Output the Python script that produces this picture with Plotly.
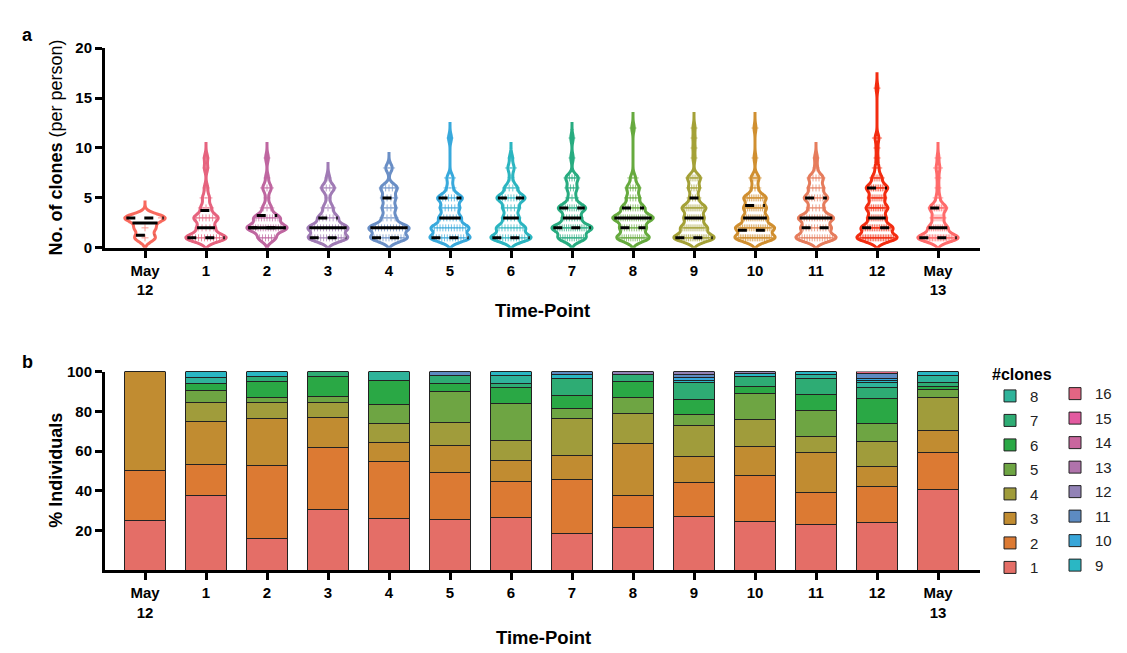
import numpy as np
import plotly.graph_objects as go

# ---------------- data ----------------
time_points = ["May<br>12", "1", "2", "3", "4", "5", "6", "7", "8", "9", "10", "11", "12", "May<br>13"]
clone_numbers = list(range(1, 17))

# number of individuals having 1..16 clones, per time-point
counts_may12 = [1, 1, 2, 0, 0, 0, 0, 0, 0, 0, 0, 0, 0, 0, 0, 0]
counts_tp1 = [12, 5, 7, 3, 2, 1, 0, 1, 1, 0, 0, 0, 0, 0, 0, 0]
counts_tp2 = [6, 14, 9, 3, 1, 3, 1, 0, 1, 0, 0, 0, 0, 0, 0, 0]
counts_tp3 = [12, 12, 6, 3, 1, 4, 1, 0, 0, 0, 0, 0, 0, 0, 0, 0]
counts_tp4 = [11, 12, 4, 4, 4, 5, 0, 2, 0, 0, 0, 0, 0, 0, 0, 0]
counts_tp5 = [13, 12, 7, 6, 8, 2, 2, 0, 0, 0, 1, 0, 0, 0, 0, 0]
counts_tp6 = [13, 9, 5, 5, 9, 4, 1, 2, 1, 0, 0, 0, 0, 0, 0, 0]
counts_tp7 = [11, 16, 7, 11, 3, 4, 5, 0, 1, 0, 1, 0, 0, 0, 0, 0]
counts_tp8 = [13, 10, 16, 9, 5, 5, 2, 0, 0, 0, 0, 1, 0, 0, 0, 0]
counts_tp9 = [19, 12, 9, 11, 4, 5, 6, 0, 1, 1, 1, 1, 0, 0, 0, 0]
counts_tp10 = [20, 19, 12, 11, 11, 3, 4, 0, 1, 0, 0, 1, 0, 0, 0, 0]
counts_tp11 = [14, 10, 12, 5, 8, 5, 5, 1, 1, 0, 0, 0, 0, 0, 0, 0]
counts_tp12 = [21, 16, 9, 11, 8, 11, 5, 2, 1, 1, 2, 0, 0, 0, 0, 1]
counts_may13 = [22, 10, 6, 9, 2, 1, 1, 2, 1, 0, 0, 0, 0, 0, 0, 0]

counts_by_tp = [counts_may12, counts_tp1, counts_tp2, counts_tp3, counts_tp4, counts_tp5,
                counts_tp6, counts_tp7, counts_tp8, counts_tp9, counts_tp10, counts_tp11,
                counts_tp12, counts_may13]

violin_colors = ["#F8695D", "#E6637E", "#BF66A0", "#A07BB5", "#6A8FC6", "#38A9DC", "#2BB5C0",
                 "#28AC80", "#66AA3E", "#A4A137", "#D08F30", "#E67C5C", "#F32C10", "#FF6B6B"]
bar_colors = ["#E46E67", "#DC7A33", "#C18C31", "#A09C3B", "#6EA543", "#2AA845", "#2EAC74", "#2FB39A",
              "#2AB7C4", "#38A6D9", "#5D8BC2", "#9282B6", "#B073AB", "#C9669E", "#E35AA0", "#E36583"]

# ---------------- figure ----------------
W, H = 1127, 653
FONT = "Liberation Sans, Arial, sans-serif"
BW = 0.4
VW = 0.66
fig = go.Figure()

for i, (cnts, col) in enumerate(zip(counts_by_tp, violin_colors)):
    vals = np.repeat(clone_numbers, cnts).astype(float)
    span = [0.0, vals.max() + 1.6]
    fig.add_trace(go.Violin(
        x=np.full(len(vals), i), y=vals, xaxis="x", yaxis="y",
        line=dict(color=col, width=3), fillcolor="white", width=VW,
        bandwidth=BW, spanmode="manual", span=span, scalemode="width",
        points=False, box_visible=False, meanline_visible=False,
        showlegend=False, hoverinfo="skip"))

    grid = np.linspace(span[0], span[1], 800)

    def kde(y):
        y = np.atleast_1d(y)
        return np.exp(-0.5 * ((y[:, None] - vals[None, :]) / BW) ** 2).sum(1)

    kmax = kde(grid).max()

    # individual values, spread evenly across the violin at their level
    px, py = [], []
    for num, c in zip(clone_numbers, cnts):
        if c == 0:
            continue
        hw = VW / 2 * kde(num)[0] / kmax * 0.82
        offs = np.linspace(-hw, hw, c) if c > 1 else np.array([0.0])
        px.extend(i + offs)
        py.extend([num] * c)
    fig.add_trace(go.Scatter(x=px, y=py, mode="markers", xaxis="x", yaxis="y",
                             marker=dict(symbol="cross-thin", size=5, color=col, opacity=0.7,
                                         line=dict(color=col, width=1)),
                             showlegend=False, hoverinfo="skip"))

    q1, med, q3 = np.percentile(vals, [25, 50, 75], method="weibull")
    for q, dash in ((q1, "dash"), (q3, "dash"), (med, "solid")):
        hw = VW / 2 * kde(q)[0] / kmax * 0.93
        fig.add_trace(go.Scatter(x=[i - hw, i + hw], y=[q, q], mode="lines", xaxis="x", yaxis="y",
                                 line=dict(color="black", width=3, dash=dash),
                                 showlegend=False, hoverinfo="skip"))

for k, num in enumerate(clone_numbers):
    pct = [c[k] / sum(c) * 100 for c in counts_by_tp]
    fig.add_trace(go.Bar(
        x=list(range(len(time_points))), y=pct, xaxis="x2", yaxis="y2", name=str(num),
        marker=dict(color=bar_colors[k], line=dict(color="#222222", width=1)), width=0.66,
        legend="legend" if num <= 8 else "legend2", legendgroup=str(num),
        legendrank=100 - num, hoverinfo="skip"))

xdom = [97 / W, 972 / W]
xr = [(97 - 137) / 61, (972 - 137) / 61]
axis_common = dict(showline=True, linewidth=3, linecolor="black", ticks="outside", ticklen=7,
                   tickwidth=2.5, tickcolor="black", showgrid=False, zeroline=False,
                   tickfont=dict(family=FONT, size=15, color="black"))

fig.update_layout(
    width=W, height=H, autosize=False,
    margin=dict(l=0, r=0, t=0, b=0),
    paper_bgcolor="white", plot_bgcolor="white",
    violinmode="overlay", barmode="stack",
    font=dict(family=FONT, color="black"),
    xaxis=dict(domain=xdom, range=xr, anchor="y", tickvals=list(range(14)),
               ticktext=["<b>%s</b>" % t for t in time_points], **axis_common),
    yaxis=dict(domain=[1 - 237 / H, 1 - 32 / H], range=[0, 20], anchor="x",
               tickvals=[0, 5, 10, 15, 20], ticktext=["<b>%d</b>" % v for v in [0, 5, 10, 15, 20]],
               **axis_common),
    xaxis2=dict(domain=xdom, range=xr, anchor="y2", tickvals=list(range(14)),
                ticktext=["<b>%s</b>" % t for t in time_points], **axis_common),
    yaxis2=dict(domain=[1 - 568 / H, 1 - 364 / H], range=[0, 100], anchor="x2",
                tickvals=[20, 40, 60, 80, 100], ticktext=["<b>%d</b>" % v for v in [20, 40, 60, 80, 100]],
                **axis_common),
    legend=dict(x=982 / W, y=1 - 351 / H, xanchor="left", yanchor="top",
                title=dict(text="<b>#clones</b>", font=dict(family=FONT, size=16, color="black")),
                traceorder="grouped", tracegroupgap=2,
                font=dict(family=FONT, size=15, color="#222"), bgcolor="rgba(0,0,0,0)"),
    legend2=dict(x=1047 / W, y=1 - 370 / H, xanchor="left", yanchor="top",
                 traceorder="grouped", tracegroupgap=2,
                 font=dict(family=FONT, size=15, color="#222"), bgcolor="rgba(0,0,0,0)"),
)

def ann(text, px, py, size, angle=0):
    fig.add_annotation(text=text, x=px / W, y=1 - py / H, xref="paper", yref="paper",
                       xanchor="center", yanchor="middle", showarrow=False, textangle=angle,
                       font=dict(family=FONT, size=size, color="black"))

ann("<b>a</b>", 19, 18, 18)
ann("<b>b</b>", 19, 354, 18)
ann("<b>No. of clones</b> (per person)", 48, 134, 18, -90)
ann("<b>% Individuals</b>", 48, 466, 18, -90)
ann("<b>Time-Point</b>", 534, 301, 18.5)
ann("<b>Time-Point</b>", 535, 637, 18.5)

fig.write_html("out.html")
